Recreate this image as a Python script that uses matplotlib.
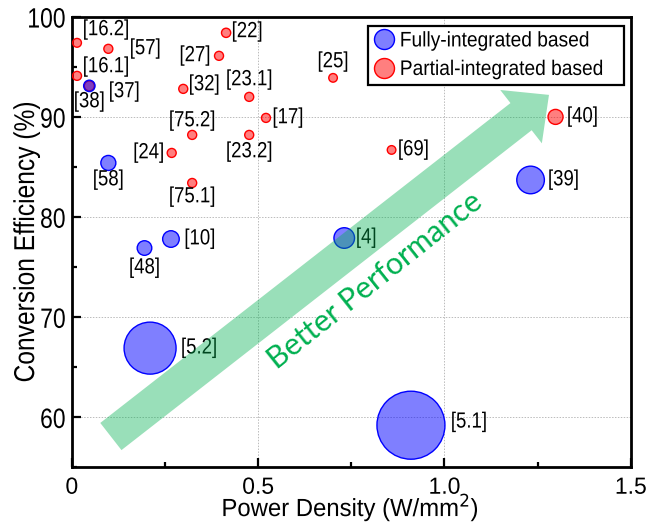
import matplotlib
matplotlib.use("Agg")
import matplotlib.pyplot as plt
from matplotlib.patches import FancyArrowPatch, ArrowStyle
from matplotlib.patheffects import AbstractPathEffect
from matplotlib.transforms import Affine2D
from matplotlib.ticker import MultipleLocator, FixedLocator
from matplotlib.lines import Line2D

# ---------------- data ----------------
full_refs = ['[38]', '[58]', '[48]', '[10]', '[4]', '[39]', '[5.2]', '[5.1]']
full_x = [0.047, 0.098, 0.195, 0.266, 0.731, 1.231, 0.210, 0.910]
full_y = [93.1, 85.4, 76.9, 77.8, 77.9, 83.7, 66.9, 59.2]
full_radius_px = [5.7, 7.5, 7.3, 8.3, 10.3, 13.8, 26.0, 34.0]

part_refs = ['[16.2]', '[57]', '[16.1]', '[37]', '[22]', '[27]', '[32]', '[23.1]',
             '[25]', '[17]', '[75.2]', '[23.2]', '[24]', '[75.1]', '[69]', '[40]']
part_x = [0.014, 0.098, 0.014, 0.047, 0.414, 0.395, 0.299, 0.476,
          0.701, 0.521, 0.323, 0.476, 0.268, 0.323, 0.858, 1.298]
part_y = [97.4, 96.8, 94.1, 93.1, 98.4, 96.1, 92.8, 92.0,
          93.9, 89.9, 88.2, 88.2, 86.4, 83.4, 86.7, 90.0]
part_radius_px = [4.4, 4.5, 4.5, 5.0, 4.6, 4.5, 4.5, 4.5,
                  4.3, 4.5, 4.5, 4.5, 4.5, 4.5, 4.3, 7.5]

# label offsets (pixels, x right / y up) -- layout only
full_off = [(0, -16), (0, -17), (0, -20), (29, 0), (22, 0), (33, 0), (49, 0), (58, 3)]
part_off = [(29, 13), (37, 0), (29, 9), (35, -6), (21, 1), (-24, 0), (21, 4), (0, 17),
            (0, 16), (22, 0), (0, 14), (0, -17), (-23, 0), (0, -14), (22, 0), (27, 0)]

xticks = [0, 0.5, 1.0, 1.5]
xtick_labels = ['0', '0.5', '1.0', '1.5']
yticks = [60, 70, 80, 90, 100]

FONT = ['Liberation Sans', 'DejaVu Sans']
DPI = 100


class VStretch(AbstractPathEffect):
    """Stretch glyphs perpendicular to the baseline (gives a condensed look)."""

    def __init__(self, sy):
        super().__init__()
        self.sy = sy

    def draw_path(self, renderer, gc, tpath, affine, rgbFace=None):
        ext = tpath.get_extents()
        cy = 0.5 * (ext.y0 + ext.y1)
        t = Affine2D().translate(0, -cy).scale(1, self.sy).translate(0, cy) + affine
        renderer.draw_path(gc, tpath, t, rgbFace)


fig = plt.figure(figsize=(6.47, 5.25), dpi=DPI)
ax = fig.add_axes([0.111, 0.110, 0.864, 0.858])


def area(r_px):
    d_pt = 2 * r_px * 72.0 / DPI
    return d_pt ** 2


ax.scatter(part_x, part_y, s=[area(r) for r in part_radius_px],
           facecolor=(1, 0, 0, 0.5), edgecolor=(1, 0, 0, 1), linewidth=1.0, zorder=3)
ax.scatter(full_x, full_y, s=[area(r) for r in full_radius_px],
           facecolor=(0, 0, 1, 0.5), edgecolor=(0, 0, 1, 1), linewidth=1.0, zorder=4)

lab_fx = [VStretch(1.18)]
for ref, x, y, off in zip(part_refs, part_x, part_y, part_off):
    ax.annotate(ref, (x, y), xytext=off, textcoords='offset pixels',
                ha='center', va='center', fontsize=13.4, family=FONT, zorder=5,
                path_effects=lab_fx)
for ref, x, y, off in zip(full_refs, full_x, full_y, full_off):
    ax.annotate(ref, (x, y), xytext=off, textcoords='offset pixels',
                ha='center', va='center', fontsize=13.4, family=FONT, zorder=5,
                path_effects=lab_fx)

# Big "better performance" arrow
arrow = FancyArrowPatch((0.1048, 58.07), (1.2804, 92.2),
                        arrowstyle=ArrowStyle.Simple(head_length=25.5, head_width=48.7,
                                                     tail_width=24.8),
                        mutation_scale=1, shrinkA=0, shrinkB=0,
                        facecolor='#00B050', edgecolor='none', alpha=0.4,
                        linewidth=0, transform=ax.transData, zorder=6)
ax.add_patch(arrow)
ax.text(0.815, 73.7, 'Better Performance', color='#00B050', fontsize=22,
        family=['Lato', 'DejaVu Sans'], rotation=38.5, rotation_mode='anchor',
        ha='center', va='center', zorder=7)

ax.set_xlim(0, 1.5)
ax.set_ylim(55, 100)
ax.xaxis.set_major_locator(FixedLocator(xticks))
ax.set_xticklabels(xtick_labels)
ax.xaxis.set_minor_locator(MultipleLocator(0.25))
ax.yaxis.set_major_locator(FixedLocator(yticks))
ax.yaxis.set_minor_locator(MultipleLocator(5))

ax.grid(True, which='major', color='#bbbbbb', linestyle=(0, (1.5, 1.5)), linewidth=0.7, zorder=0)
ax.set_axisbelow(True)

for s in ax.spines.values():
    s.set_linewidth(2.0)
ax.tick_params(which='both', direction='in', top=False, right=False, width=1.6)
ax.tick_params(which='major', length=6.5)
ax.tick_params(which='minor', length=3.6)
ax.tick_params(axis='x', which='major', labelsize=16.5, pad=6.0, labelfontfamily=FONT)
ax.tick_params(axis='y', which='major', labelsize=16.5, pad=4.5, labelfontfamily=FONT)
for t in ax.xaxis.get_major_ticks():
    t.label1.set_path_effects([VStretch(1.02)])
for t in ax.yaxis.get_major_ticks():
    t.label1.set_path_effects([VStretch(1.22)])

ax.set_xlabel('Power Density (W/mm$^2$)', fontsize=17.2, family=FONT,
              path_effects=[VStretch(1.04)])
ax.xaxis.label.set_va('baseline')
ax.xaxis.set_label_coords(0.498, -0.108)
ax.set_ylabel('Conversion Efficiency (%)', fontsize=17.7, family=FONT,
              path_effects=[VStretch(1.17)])
ax.yaxis.label.set_va('center')
ax.yaxis.set_label_coords(-0.082, 0.5)

handles = [
    Line2D([], [], linestyle='none', marker='o', markersize=14.4,
           markerfacecolor=(0, 0, 1, 0.5), markeredgecolor='blue', markeredgewidth=1.0),
    Line2D([], [], linestyle='none', marker='o', markersize=14.4,
           markerfacecolor=(1, 0, 0, 0.5), markeredgecolor='red', markeredgewidth=1.0),
]
leg = ax.legend(handles, ['Fully-integrated based', 'Partial-integrated based'],
                loc='upper right', bbox_to_anchor=(0.5295, 0.5, 0.4585, 0.48),
                mode='expand',
                prop={'family': FONT, 'size': 13.8}, frameon=True, fancybox=False,
                edgecolor='black', framealpha=1, borderpad=0.35, labelspacing=0.58,
                handlelength=0.97, handletextpad=0.35, borderaxespad=0)
leg.get_frame().set_linewidth(1.6)
for txt in leg.get_texts():
    txt.set_path_effects([VStretch(1.1)])
leg.set_zorder(10)

fig.savefig('out.png', dpi=DPI)
